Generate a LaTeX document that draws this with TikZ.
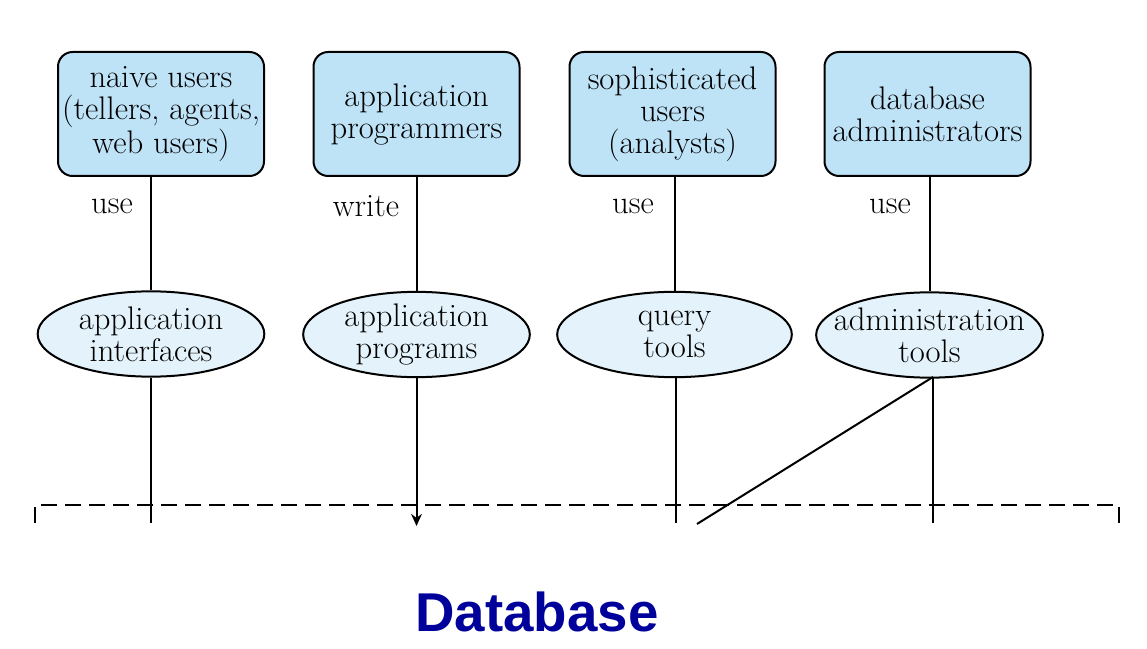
\documentclass[tikz,border=0pt]{standalone}
\usepackage{fontspec}
\newfontfamily\dbfont{Liberation Sans}
\usetikzlibrary{shapes.geometric,arrows.meta}
\definecolor{boxblue}{RGB}{190,226,246}
\definecolor{ellblue}{RGB}{228,243,251}
\definecolor{dbblue}{RGB}{0,0,155}
\begin{document}
\begin{tikzpicture}[x=0.75pt,y=-0.75pt,
  every node/.style={font=\fontsize{24.5}{24}\selectfont},
  userbox/.style={draw, line width=1.5pt, rounded corners=11pt, fill=boxblue,
    minimum width=154.5pt, minimum height=93pt, align=center, inner sep=0pt},
  toolell/.style={draw, ellipse, line width=1.5pt, fill=ellblue,
    minimum width=170pt, minimum height=64pt, align=center,
    inner xsep=-25pt, inner ysep=-10pt},
  conn/.style={line width=1.5pt},
  verb/.style={anchor=center},
  dbline/.style={line width=1.5pt, dash pattern=on 12pt off 6pt}]
\useasboundingbox (0,0) rectangle (1147,649);
% user boxes
\node[userbox] (b1) at (161,114) {naive users\\(tellers, agents,\\web users)};
\node[userbox] (b2) at (416.5,114) {application\\programmers};
\node[userbox] (b3) at (672.5,114) {sophisticated\\users\\(analysts)};
\node[userbox] (b4) at (927.5,114) {database\\administrators};
% tools
\node[toolell] (e1) at (151,334) {application\\interfaces};
\node[toolell] (e2) at (416.5,334.5) {application\\programs};
\node[toolell, minimum width=176pt] (e3) at (674.5,334.5) {query\\tools};
\node[toolell] (e4) at (929.5,335) {administration\\tools};
% verbs
\node[verb] (v1) at (112,206) {use};
\node[verb] (v2) at (366,206) {write};
\node[verb] (v3) at (633,206) {use};
\node[verb] (v4) at (890,206) {use};
% upper connectors
\draw[conn] (b1.south -| e1.north) -- (e1.north);
\draw[conn] (b2.south -| e2.north) -- (e2.north);
\draw[conn] (b3.south -| e3.north) -- (e3.north);
\draw[conn] (b4.south -| e4.north) -- (e4.north);
% lower ends
\coordinate (d1) at (151,523);
\coordinate (d2) at (416.5,526);
\coordinate (d3) at (676,523);
\coordinate (d4) at (933,523);
\coordinate (d5) at (697,524);
\coordinate (t4) at (933,377);
\draw[conn] (e1.south) -- (d1);
\draw[conn, -{Stealth[length=9pt,width=8pt]}] (e2.south) -- (d2);
\draw[conn] (e3.south -| d3) -- (d3);
\draw[conn] (t4) -- (d4);
\draw[conn] (t4) -- (d5);
% dashed database boundary
\coordinate (l0) at (35,523);
\coordinate (l1) at (35,505);
\coordinate (r1) at (1119,505);
\coordinate (r0) at (1119,523);
\draw[dbline] (l0) -- (l1) -- (r1) -- (r0);
% title
\node[font=\dbfont\bfseries\fontsize{41}{44}\selectfont, text=dbblue] (db) at (537,612) {Database};
\end{tikzpicture}
\end{document}
